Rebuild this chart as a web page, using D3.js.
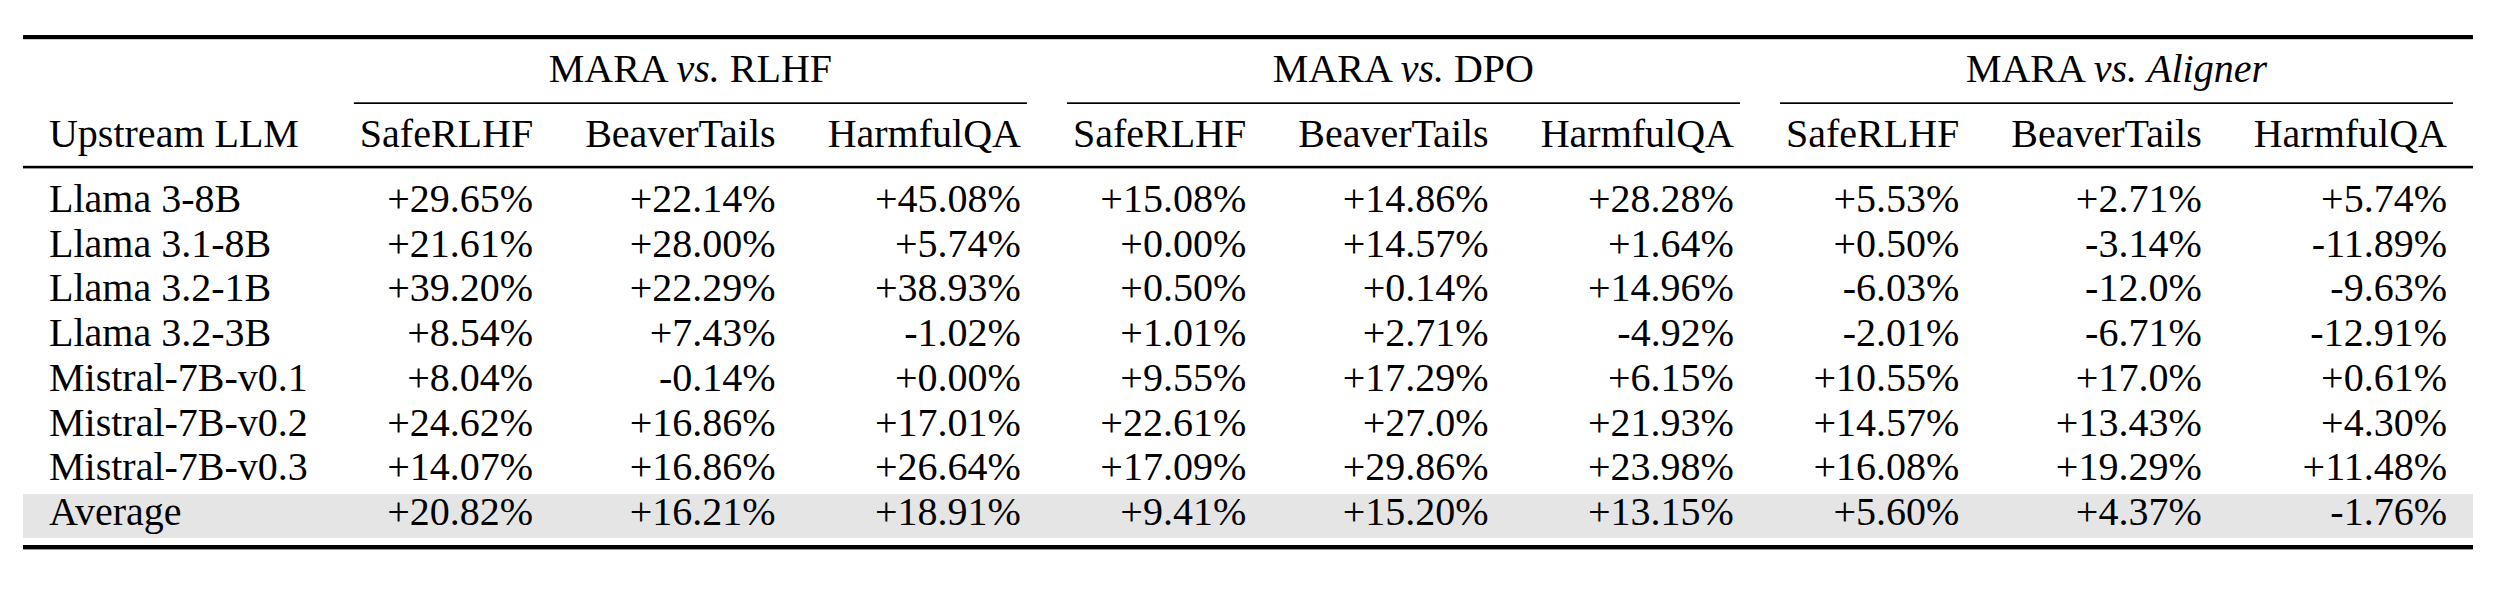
<!DOCTYPE html>
<html>
<head>
<meta charset="utf-8">
<script src="https://cdn.jsdelivr.net/npm/d3@7"></script>
<style>
  html, body { margin: 0; padding: 0; background: #ffffff; }
  svg { display: block; }
  text { font-family: "Liberation Serif", "Times New Roman", serif; fill: #000; }
</style>
</head>
<body>
<svg id="chart" width="2496" height="590"></svg>
<script>
// ---------- data ----------
const models = ["Llama 3-8B", "Llama 3.1-8B", "Llama 3.2-1B", "Llama 3.2-3B",
                "Mistral-7B-v0.1", "Mistral-7B-v0.2", "Mistral-7B-v0.3"];
const averageLabel = "Average";
const firstHeader = "Upstream LLM";
const baselines = ["RLHF", "DPO", "Aligner"];
const baselineItalic = [false, false, true];
const datasets = ["SafeRLHF", "BeaverTails", "HarmfulQA"];

// values per column (model rows followed by average), as printed
const rlhfSafe   = ["+29.65", "+21.61", "+39.20", "+8.54", "+8.04", "+24.62", "+14.07", "+20.82"];
const rlhfBeaver = ["+22.14", "+28.00", "+22.29", "+7.43", "-0.14", "+16.86", "+16.86", "+16.21"];
const rlhfHarm   = ["+45.08", "+5.74", "+38.93", "-1.02", "+0.00", "+17.01", "+26.64", "+18.91"];
const dpoSafe    = ["+15.08", "+0.00", "+0.50", "+1.01", "+9.55", "+22.61", "+17.09", "+9.41"];
const dpoBeaver  = ["+14.86", "+14.57", "+0.14", "+2.71", "+17.29", "+27.0", "+29.86", "+15.20"];
const dpoHarm    = ["+28.28", "+1.64", "+14.96", "-4.92", "+6.15", "+21.93", "+23.98", "+13.15"];
const alignSafe  = ["+5.53", "+0.50", "-6.03", "-2.01", "+10.55", "+14.57", "+16.08", "+5.60"];
const alignBeaver= ["+2.71", "-3.14", "-12.0", "-6.71", "+17.0", "+13.43", "+19.29", "+4.37"];
const alignHarm  = ["+5.74", "-11.89", "-9.63", "-12.91", "+0.61", "+4.30", "+11.48", "-1.76"];

const valueColumns = [rlhfSafe, rlhfBeaver, rlhfHarm, dpoSafe, dpoBeaver, dpoHarm, alignSafe, alignBeaver, alignHarm];

// ---------- layout ----------
const FONT = 40;
const tableLeft = 23, tableRight = 2473;
const svg = d3.select("#chart");

const rowLabels = models.concat([averageLabel]);
const fmt = s => s + "%";

// measure text widths
const meas = svg.append("text").attr("font-size", FONT).attr("x", -9999).attr("y", -9999);
function w(s) { meas.text(s); return meas.node().getComputedTextLength(); }

const colTexts = [[firstHeader].concat(rowLabels)];
valueColumns.forEach((col, i) => colTexts.push([datasets[i % 3]].concat(col.map(fmt))));
const colWidths = colTexts.map(arr => d3.max(arr, w));
meas.remove();

const pad = (tableRight - tableLeft - d3.sum(colWidths)) / (2 * colWidths.length);
const colStart = [];
let cx = tableLeft;
colWidths.forEach((cw, i) => { colStart.push(cx + pad); cx += cw + 2 * pad; });
const colEnd = colStart.map((s, i) => s + colWidths[i]);

// vertical scale for data rows (baseline positions)
const yRow = d3.scaleLinear().domain([0, rowLabels.length - 1]).range([212, 525]);
const yGroupHeader = 82, yColHeader = 147;

// ---------- average row shading ----------
svg.append("rect")
  .attr("x", tableLeft).attr("width", tableRight - tableLeft)
  .attr("y", 494).attr("height", 44)
  .attr("fill", "#e5e5e5");

// ---------- rules ----------
const rules = [
  { y: 35, h: 4.2 },   // top rule
  { y: 165.8, h: 2.6 },// mid rule
  { y: 545, h: 4.4 }   // bottom rule
];
svg.selectAll("rect.rule").data(rules).join("rect")
  .attr("class", "rule")
  .attr("x", tableLeft).attr("width", tableRight - tableLeft)
  .attr("y", d => d.y).attr("height", d => d.h)
  .attr("fill", "#000");

// cmidrules under group headers
const trim = 0.5 * FONT;
const groups = baselines.map((b, g) => {
  const first = 1 + g * 3, last = first + 2;
  return {
    name: b, italic: baselineItalic[g],
    x0: colStart[first] - pad + trim, x1: colEnd[last] + pad - trim,
    center: (colStart[first] + colEnd[last]) / 2
  };
});
svg.selectAll("rect.cmid").data(groups).join("rect")
  .attr("class", "cmid")
  .attr("x", d => d.x0).attr("width", d => d.x1 - d.x0)
  .attr("y", 102.3).attr("height", 1.7)
  .attr("fill", "#000");

// group headers
const gh = svg.selectAll("text.group").data(groups).join("text")
  .attr("class", "group")
  .attr("font-size", FONT)
  .attr("text-anchor", "middle")
  .attr("x", d => d.center).attr("y", yGroupHeader);
gh.append("tspan").text("MARA ");
gh.append("tspan").attr("font-style", "italic").text("vs.");
gh.append("tspan").text(" ");
gh.append("tspan").attr("font-style", d => d.italic ? "italic" : "normal").text(d => d.name);

// column headers
svg.append("text")
  .attr("font-size", FONT).attr("x", colStart[0]).attr("y", yColHeader)
  .text(firstHeader);
svg.selectAll("text.colhead").data(valueColumns.map((c, i) => ({ name: datasets[i % 3], i: i + 1 })))
  .join("text")
  .attr("class", "colhead")
  .attr("font-size", FONT)
  .attr("text-anchor", "end")
  .attr("x", d => colEnd[d.i]).attr("y", yColHeader)
  .text(d => d.name);

// row labels
svg.selectAll("text.rowlabel").data(rowLabels).join("text")
  .attr("class", "rowlabel")
  .attr("font-size", FONT)
  .attr("x", colStart[0]).attr("y", (d, i) => yRow(i))
  .text(d => d);

// values
valueColumns.forEach((col, ci) => {
  svg.selectAll("text.v" + ci).data(col).join("text")
    .attr("class", "v" + ci)
    .attr("font-size", FONT)
    .attr("text-anchor", "end")
    .attr("x", colEnd[ci + 1]).attr("y", (d, i) => yRow(i))
    .text(fmt);
});
</script>
</body>
</html>
